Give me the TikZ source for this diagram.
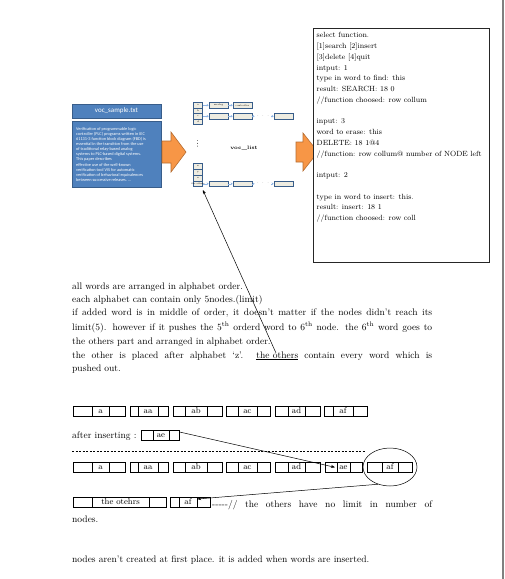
\documentclass[tikz,border=0pt]{standalone}
\usepackage{fontspec}
\newfontfamily\calibri{Carlito}
\usetikzlibrary{arrows.meta,shapes.geometric}

\definecolor{fileblue}{HTML}{4F81BD}
\definecolor{fileedge}{HTML}{385D8A}
\definecolor{cellfill}{HTML}{EEECE1}
\definecolor{linkblue}{HTML}{8EB4E3}
\definecolor{stepfill}{HTML}{F79646}
\definecolor{stepedge}{HTML}{B66D31}

\tikzset{
  listcell/.style={draw=fileedge, fill=cellfill, line width=0.7pt, inner sep=0pt,
    minimum height=5.5pt, font=\fontsize{2.4}{3}\selectfont},
  link/.style={-{Stealth[length=2pt,width=2.6pt]}, color=linkblue, line width=0.5pt},
  wordcell/.style={draw, line width=0.6pt, inner sep=0pt, minimum height=10pt, anchor=north west},
  wordtxt/.style={font=\fontsize{8.5}{9}\selectfont, inner sep=0pt, text height=6pt, text depth=1.5pt},
  body/.style={font=\fontsize{9.5}{11}\selectfont, anchor=base west, inner sep=0pt},
  console/.style={font=\fontsize{7.5}{10.75}\selectfont, align=left, anchor=north west, inner sep=0pt},
  pointer/.style={-{Stealth[length=4pt,width=3pt]}, line width=0.5pt},
}

% name, left, divider, divider, right, top, word
\newcommand{\wordbox}[7]{%
  \pgfmathsetmacro{\boxw}{#5-#2}
  \node[wordcell, minimum width=\boxw pt] (#1) at (#2,#6) {};
  \draw[line width=0.6pt] (#3,#6) -- ++(0,10) (#4,#6) -- ++(0,10);
  \node[wordtxt] (#1-w) at ({(#3+#4)/2},#6+5) {#7};
}

\begin{document}
\begin{tikzpicture}[x=1pt,y=-1pt]
    \fill[white] (0,0) rectangle (504,579);
    \useasboundingbox (0,0) rectangle (504,579);
    \draw[gray, line width=1.5pt] (503,0) -- (503,579);

    % FILE BOX
    \node[draw=fileedge, fill=fileblue, line width=0.8pt, minimum width=89pt, minimum height=14pt,
      font=\calibri\fontsize{7}{8}\selectfont, text=white] (srctitle) at (116.5,111) {voc\_sample.txt};
    \node[draw=fileedge, fill=fileblue, line width=0.8pt, minimum width=89pt, minimum height=66pt,
      anchor=north west] (srcbody) at (72,121) {};
    \node[font=\calibri\fontsize{4.3}{5.1}\selectfont, text=white, align=left, anchor=west, inner sep=0pt]
      (srctext) at ([xshift=4pt]srcbody.west) {Verification of programmable logic\\
      controller (PLC) programs written in IEC\\
      61131-3 function block diagram (FBD) is\\
      essential in the transition from the use\\
      of traditional relay-based analog\\
      systems to PLC-based digital systems.\\
      This paper describes\\
      effective use of the well-known\\
      verification tool VIS for automatic\\
      verification of behavioral equivalences\\
      between successive releases. ...};

    % ORANGE ARROWS
    \draw[fill=stepfill, draw=stepedge, line width=0.6pt] (162,141) -- (171,141) -- (171,132)
      -- (186,152) -- (171,172) -- (171,163) -- (162,163) -- cycle;
    \draw[fill=stepfill, draw=stepedge, line width=0.6pt] (296,142) -- (303,142) -- (303,133)
      -- (318,152) -- (303,171) -- (303,162) -- (296,162) -- cycle;

    % VOC LIST
    \foreach \l/\y in {a/105.25, b/110.75, c/116.25, d/121.75}
        \node[listcell, minimum width=9pt] (idx\l) at (198,\y) {\l};
    \node[listcell, minimum width=19pt] (ana) at (218.5,105.25) {analog};
    \node[listcell, minimum width=19pt] (ctl) at (242.5,105.25) {controller};
    \draw[link] (idxa) -- (ana);
    \draw[link] (ana) -- (ctl);

    \node[listcell, minimum width=19pt] (c1) at (218.5,116.25) {};
    \node[listcell, minimum width=19pt] (c2) at (242.5,116.25) {};
    \node[font=\fontsize{5}{5}\selectfont, text=gray, inner sep=0.5pt] (cdots) at (263,116.25) {···};
    \node[listcell, minimum width=19pt] (c3) at (283.5,116.25) {};
    \draw[link] (idxc) -- (c1);
    \draw[link] (c1) -- (c2);
    \draw[link] (c2) -- (cdots);
    \draw[link] (cdots) -- (c3);

    \foreach \k in {0,1,2}
        \fill[darkgray] (197.5,140.5+2.8*\k) circle (0.45);
    \node[font=\bfseries\fontsize{5}{6}\selectfont] (voclist) at (244,148) {voc\_list};

    \foreach \l/\y in {x/166.4, y/172.2, z/178}
        \node[listcell, minimum width=9pt, minimum height=5.8pt] (idx\l) at (198,\y) {\l};
    \node[listcell, minimum width=9pt, minimum height=5.8pt,
      label={[font=\fontsize{2.2}{3}\selectfont, inner sep=0pt]center:the others}] (idxoth) at (198,183.8) {};
    \node[listcell, minimum width=19pt] (o1) at (218.5,183.8) {};
    \node[listcell, minimum width=19pt] (o2) at (242.5,183.8) {};
    \node[font=\fontsize{5}{5}\selectfont, text=gray, inner sep=0.5pt] (odots) at (263,183.8) {···};
    \node[listcell, minimum width=19pt] (o3) at (283.5,183.8) {};
    \draw[link] (idxoth) -- (o1);
    \draw[link] (o1) -- (o2);
    \draw[link] (o2) -- (odots);
    \draw[link] (odots) -- (o3);

    % CONSOLE OUTPUT
    \node[draw=black!85, fill=white, line width=0.8pt, minimum width=176pt, minimum height=234pt,
      anchor=north west] (console) at (313,28) {};
    \node[console] (out) at (316.5,32.3) {select function.\\{}[1]search [2]insert\\{}[3]delete [4]quit\\
      intput: 1\\type in word to find: this\\result: SEARCH: 18 0\\//function choosed: row collum\\[10.75pt]
      input: 3\\word to erase: this\\DELETE: 18 1@4\\//function: row collum@ number of NODE left\\[10.75pt]
      intput: 2\\[10.75pt]
      type in word to insert: this.\\result: insert: 18 1\\//function choosed: row coll};

    % EXPLANATION
    \node[body] (l1) at (72,289.5) {all words are arranged in alphabet order.};
    \node[body] (l2) at (72,302.5) {each alphabet can contain only 5nodes.(limit)};
    \node[body] (l3) at (72,315.5) {\makebox[360pt][s]{if added word is in middle of order, it doesn't matter if the nodes didn't reach its}};
    \node[body] (l4) at (72,330.5) {\makebox[360pt][s]{limit(5). however if it pushes the 5\textsuperscript{th} orderd word to 6\textsuperscript{th} node. the 6\textsuperscript{th} word goes to}};
    \node[body] (l5) at (72,344.5) {the others part and arranged in alphabet order.};
    \node[body] (l6) at (72,358) {\makebox[360pt][s]{the other is placed after alphabet `z'. \underline{the others} contain every word which is}};
    \node[body] (l7) at (72,371.5) {pushed out.};

    \coordinate (othword) at (276,353);
    \draw[pointer] (othword) -- ([yshift=-3pt]idxoth.south east);

    % WORD ROWS
    \foreach \w/\l/\p/\q/\r in {a/73/92/109/125, aa/130/138/158/168, ab/173/185/207/222,
        ac/226/238/257/270, ad/275/288/305/320, af/324/333/353/367}
        \wordbox{up\w}{\l}{\p}{\q}{\r}{406}{\w};

    \node[body] (after) at (72,438) {after inserting :};
    \wordbox{ins}{141}{153}{169}{179}{430}{ae}

    \draw[dash pattern=on 2pt off 1.5pt, line width=0.45pt] (72,451) -- (366,451);

    \foreach \w/\l/\p/\q/\r in {a/73/92/109/125, aa/130/138/158/168, ab/173/185/207/222,
        ac/226/238/257/270, ad/275/288/305/320, ae/325/337/350/362, af/367/382/398/412}
        \wordbox{dn\w}{\l}{\p}{\q}{\r}{462}{\w};

    \node[draw, ellipse, line width=0.5pt, minimum width=54pt, minimum height=38pt] (ring) at (390,467) {};
    \draw[pointer] ([yshift=-2pt]ins.north east) -- ([xshift=10pt]dnae.west);

    \wordbox{oth}{73}{92}{149}{166}{497}{the otehrs}
    \wordbox{othaf}{170}{179}{197}{210}{497}{af}
    \draw[pointer] (ring.235) -- ([xshift=7pt,yshift=-2pt]othaf.north);

    \node[body] (limit) at (212,507.5) {\makebox[220pt][s]{-{}-{}-{}-{}-// the others have no limit in number of}};
    \node[body] (limit2) at (72,522) {nodes.};
    \node[body] (final) at (72,562.5) {nodes aren't created at first place. it is added when words are inserted.};
\end{tikzpicture}
\end{document}
